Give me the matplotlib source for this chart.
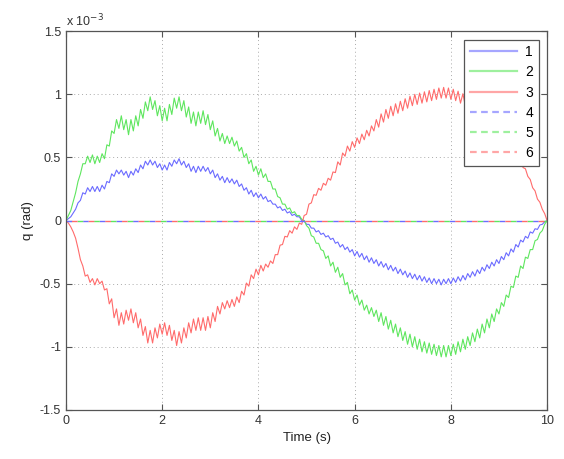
import numpy as np
import matplotlib
matplotlib.use('Agg')
import matplotlib.pyplot as plt
from matplotlib.ticker import FormatStrFormatter

# values in units of 1e-3 rad
# "even" samples at t = 0.0, 0.1, ..., 10.0 ; "odd" samples at t = 0.05, 0.15, ..., 9.95
q1_even = [0, 0.03, 0.09, 0.16, 0.21, 0.23, 0.23, 0.23, 0.25, 0.30,
           0.35, 0.37, 0.36, 0.34, 0.36, 0.38, 0.41, 0.44, 0.44, 0.42,
           0.40, 0.40, 0.43, 0.45, 0.44, 0.42, 0.39, 0.38, 0.39, 0.39,
           0.37, 0.34, 0.32, 0.30, 0.30, 0.29, 0.27, 0.24, 0.21, 0.19,
           0.18, 0.17, 0.15, 0.13, 0.10, 0.08, 0.06, 0.04, 0.03, 0.00,
           -0.03, -0.06, -0.09, -0.11, -0.13, -0.15, -0.18, -0.21, -0.23, -0.25,
           -0.28, -0.29, -0.31, -0.33, -0.34, -0.36, -0.37, -0.39, -0.40, -0.42,
           -0.43, -0.45, -0.46, -0.47, -0.48, -0.49, -0.50, -0.50, -0.51, -0.50,
           -0.50, -0.49, -0.48, -0.47, -0.45, -0.44, -0.42, -0.40, -0.38, -0.36,
           -0.34, -0.31, -0.28, -0.25, -0.21, -0.17, -0.14, -0.10, -0.07, -0.03,
           0]
q1_odd = [0.015, 0.06, 0.14, 0.22, 0.26, 0.27, 0.27, 0.28, 0.31, 0.37,
          0.40, 0.40, 0.39, 0.39, 0.41, 0.44, 0.47, 0.48, 0.47, 0.45,
          0.44, 0.46, 0.48, 0.49, 0.47, 0.45, 0.43, 0.43, 0.43, 0.42,
          0.40, 0.37, 0.35, 0.34, 0.33, 0.32, 0.29, 0.26, 0.24, 0.22,
          0.21, 0.19, 0.16, 0.13, 0.11, 0.09, 0.07, 0.05, 0.03, 0.00,
          -0.03, -0.06, -0.08, -0.10, -0.12, -0.14, -0.17, -0.19, -0.21, -0.23,
          -0.245, -0.26, -0.28, -0.295, -0.31, -0.325, -0.34, -0.355, -0.37, -0.385,
          -0.40, -0.415, -0.425, -0.435, -0.445, -0.455, -0.46, -0.465, -0.465, -0.46,
          -0.455, -0.445, -0.435, -0.42, -0.405, -0.39, -0.37, -0.35, -0.33, -0.31,
          -0.285, -0.255, -0.225, -0.19, -0.155, -0.125, -0.09, -0.065, -0.035, -0.01]

q2_even = [0, 0.08, 0.22, 0.37, 0.45, 0.46, 0.45, 0.46, 0.49, 0.59,
           0.69, 0.73, 0.72, 0.68, 0.71, 0.75, 0.81, 0.87, 0.88, 0.83,
           0.79, 0.79, 0.84, 0.89, 0.87, 0.82, 0.77, 0.75, 0.77, 0.76,
           0.72, 0.67, 0.63, 0.61, 0.61, 0.59, 0.55, 0.50, 0.45, 0.39,
           0.36, 0.34, 0.31, 0.25, 0.19, 0.13, 0.09, 0.06, 0.04, 0.01,
           -0.04, -0.12, -0.18, -0.23, -0.30, -0.36, -0.41, -0.45, -0.51, -0.58,
           -0.63, -0.67, -0.71, -0.74, -0.76, -0.80, -0.83, -0.86, -0.89, -0.92,
           -0.95, -0.98, -1.00, -1.02, -1.04, -1.05, -1.06, -1.07, -1.08, -1.08,
           -1.07, -1.06, -1.04, -1.02, -0.99, -0.96, -0.93, -0.89, -0.85, -0.80,
           -0.74, -0.68, -0.61, -0.53, -0.45, -0.38, -0.30, -0.23, -0.15, -0.08,
           0]
q2_odd = [0.04, 0.15, 0.31, 0.45, 0.51, 0.52, 0.51, 0.53, 0.60, 0.71,
          0.80, 0.83, 0.80, 0.80, 0.83, 0.88, 0.94, 0.98, 0.95, 0.91,
          0.89, 0.92, 0.97, 0.98, 0.95, 0.90, 0.86, 0.86, 0.87, 0.84,
          0.79, 0.73, 0.69, 0.67, 0.66, 0.63, 0.58, 0.53, 0.48, 0.43,
          0.41, 0.37, 0.31, 0.25, 0.18, 0.13, 0.10, 0.07, 0.04, 0.00,
          -0.06, -0.13, -0.18, -0.24, -0.28, -0.33, -0.37, -0.42, -0.49, -0.55,
          -0.59, -0.63, -0.67, -0.69, -0.71, -0.73, -0.76, -0.79, -0.82, -0.85,
          -0.88, -0.90, -0.92, -0.94, -0.96, -0.97, -0.98, -0.99, -0.99, -0.99,
          -0.98, -0.96, -0.94, -0.92, -0.89, -0.86, -0.82, -0.78, -0.74, -0.70,
          -0.65, -0.59, -0.52, -0.44, -0.36, -0.29, -0.23, -0.16, -0.10, -0.03]

q3_even = [0, -0.05, -0.14, -0.31, -0.44, -0.49, -0.51, -0.50, -0.55, -0.66,
           -0.77, -0.83, -0.82, -0.79, -0.81, -0.85, -0.91, -0.97, -0.97, -0.93,
           -0.90, -0.91, -0.95, -0.99, -0.97, -0.93, -0.89, -0.87, -0.87, -0.87,
           -0.85, -0.80, -0.74, -0.70, -0.69, -0.68, -0.65, -0.59, -0.52, -0.46,
           -0.43, -0.40, -0.37, -0.34, -0.27, -0.19, -0.13, -0.10, -0.07, -0.03,
           0.05, 0.14, 0.20, 0.24, 0.28, 0.32, 0.38, 0.44, 0.51, 0.55,
           0.58, 0.61, 0.64, 0.67, 0.71, 0.74, 0.78, 0.81, 0.83, 0.85,
           0.87, 0.89, 0.91, 0.92, 0.93, 0.94, 0.95, 0.96, 0.97, 0.97,
           0.96, 0.95, 0.93, 0.91, 0.88, 0.86, 0.83, 0.79, 0.75, 0.71,
           0.67, 0.62, 0.57, 0.52, 0.47, 0.42, 0.35, 0.26, 0.17, 0.09,
           0]
q3_odd = [-0.02, -0.09, -0.22, -0.36, -0.43, -0.46, -0.46, -0.48, -0.54, -0.62,
          -0.70, -0.73, -0.71, -0.70, -0.73, -0.78, -0.84, -0.87, -0.85, -0.82,
          -0.81, -0.83, -0.87, -0.88, -0.85, -0.81, -0.78, -0.77, -0.77, -0.76,
          -0.73, -0.68, -0.65, -0.635, -0.625, -0.605, -0.56, -0.495, -0.43, -0.385,
          -0.355, -0.345, -0.32, -0.27, -0.195, -0.125, -0.08, -0.05, -0.02, 0.04,
          0.13, 0.205, 0.255, 0.295, 0.335, 0.385, 0.465, 0.535, 0.59, 0.625,
          0.655, 0.685, 0.715, 0.75, 0.80, 0.845, 0.88, 0.905, 0.925, 0.945,
          0.965, 0.985, 1.0, 1.01, 1.02, 1.03, 1.04, 1.05, 1.055, 1.05,
          1.04, 1.025, 1.005, 0.98, 0.95, 0.905, 0.87, 0.83, 0.79, 0.75,
          0.705, 0.655, 0.605, 0.555, 0.50, 0.41, 0.325, 0.235, 0.145, 0.055]

# joints 4-6 stay at zero
t_flat = [0, 10]
q4 = [0, 0]
q5 = [0, 0]
q6 = [0, 0]

labels = ['1', '2', '3', '4', '5', '6']
colors = ['#6b6bff', '#5ee65e', '#ff6b6b']

t = np.linspace(0, 10, 201)


def merge(even, odd):
    y = np.empty(201)
    y[0::2] = even
    y[1::2] = odd
    return y


plt.rcParams['font.family'] = ['Liberation Sans', 'DejaVu Sans']

fig = plt.figure(figsize=(5.64, 4.59), dpi=100)
ax = fig.add_axes([0.117, 0.107, 0.853, 0.825])

ax.plot(t, merge(q1_even, q1_odd), color=colors[0], lw=0.8, label=labels[0])
ax.plot(t, merge(q2_even, q2_odd), color=colors[1], lw=0.8, label=labels[1])
ax.plot(t, merge(q3_even, q3_odd), color=colors[2], lw=0.8, label=labels[2])
ax.plot(t_flat, q4, color=colors[0], lw=1.0, ls=(0, (4, 8)), label=labels[3])
ax.plot(t_flat, q5, color=colors[1], lw=1.0, ls=(4, (4, 8)), label=labels[4])
ax.plot(t_flat, q6, color=colors[2], lw=1.0, ls=(8, (4, 8)), label=labels[5])

ax.set_xlim(0, 10)
ax.set_ylim(-1.5, 1.5)
ax.set_xticks([0, 2, 4, 6, 8, 10])
ax.set_yticks([-1.5, -1, -0.5, 0, 0.5, 1, 1.5])
ax.yaxis.set_major_formatter(FormatStrFormatter('%g'))
ax.tick_params(direction='in', top=True, right=True, labelsize=9, length=4,
               color='#555555', labelcolor='#333333')
ax.grid(True, ls=(0, (1, 3)), color='#aaaaaa', lw=0.7)
for s in ax.spines.values():
    s.set_color('#555555')
    s.set_linewidth(0.9)

ax.set_xlabel('Time (s)', fontsize=9.5, color='#222222')
ax.set_ylabel('q (rad)', fontsize=9.5, color='#222222')
ax.text(0.0, 1.012, r'x 10$^{-3}$', transform=ax.transAxes, fontsize=9, color='#333333')

leg = ax.legend(loc='upper right', fontsize=10, handlelength=3.4, fancybox=False,
                framealpha=1, edgecolor='#555555', borderaxespad=0.6,
                labelspacing=0.45, handletextpad=0.6)
leg.get_frame().set_linewidth(0.9)
for i, line in enumerate(leg.get_lines()):
    line.set_linewidth(1.6)
    line.set_alpha(0.6)
    if i >= 3:
        line.set_linestyle((0, (3, 2)))

fig.savefig('out.png', dpi=100)
